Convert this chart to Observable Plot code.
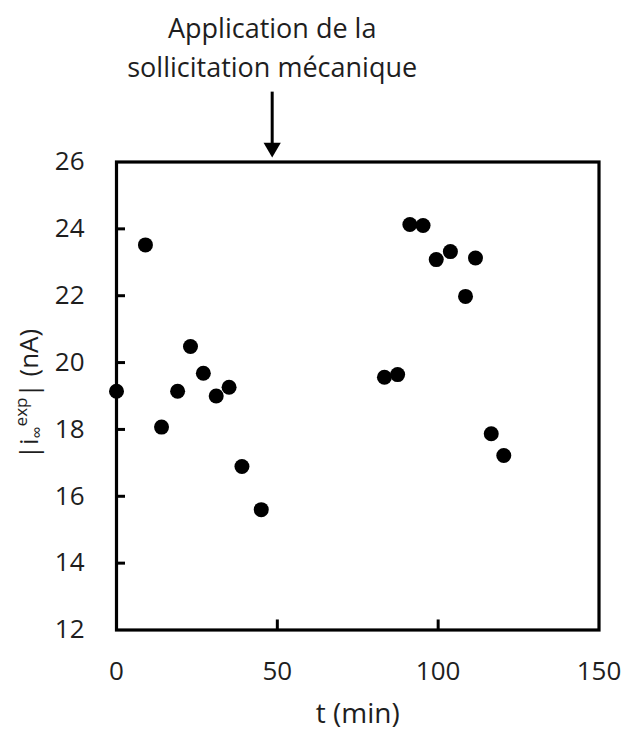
<!DOCTYPE html>
<html>
<head>
<meta charset="utf-8">
<script src="https://cdn.jsdelivr.net/npm/d3@7"></script>
<script src="https://cdn.jsdelivr.net/npm/@observablehq/plot@0.6"></script>
<style>
  html, body { margin: 0; padding: 0; background: #fff; }
  svg { display: block; }
</style>
</head>
<body>
<div id="chart"></div>
<script>
const tValues = [0, 9, 14, 19, 23, 27, 31, 35, 39, 45,
                 83.3, 87.4, 91.2, 95.3, 99.4, 103.8, 108.5, 111.6, 116.5, 120.4];
const iValues = [19.14, 23.52, 18.07, 19.14, 20.48, 19.68, 19.0, 19.26, 16.89, 15.60,
                 19.56, 19.64, 24.13, 24.10, 23.08, 23.32, 21.98, 23.13, 17.87, 17.22];
const xTicks = [0, 50, 100, 150];
const yTicks = [12, 14, 16, 18, 20, 22, 24, 26];
const annotationT = 48.4;
const annotationText = "Application de la\nsollicitation mécanique";
const xLabel = "t (min)";

const data = tValues.map((t, i) => ({t, v: iValues[i]}));
const font = "'Open Sans', sans-serif";
const ink = "#1e1e1e";

const plot = Plot.plot({
  width: 628,
  height: 736,
  marginLeft: 116,
  marginRight: 29.5,
  marginTop: 161.5,
  marginBottom: 106.5,
  style: {fontFamily: font, fontSize: "26px", color: ink, background: "#fff", overflow: "visible"},
  x: {domain: [0, 150], ticks: xTicks},
  y: {domain: [12, 26], ticks: yTicks},
  marks: [
    Plot.ruleY(yTicks.slice(1, -1), {x1: 0, x2: 2.8, stroke: "#000", strokeWidth: 3}),
    Plot.ruleX(xTicks.slice(1, -1), {y1: 12, y2: 12.3, stroke: "#000", strokeWidth: 3}),
    Plot.frame({stroke: "#000", strokeWidth: 3.2}),
    Plot.axisY(yTicks, {tickSize: 0, tickPadding: 32, fontSize: 26, label: null, fill: ink}),
    Plot.axisX(xTicks, {tickSize: 0, tickPadding: 32, fontSize: 26, label: null, fill: ink}),
    Plot.dot(data, {x: "t", y: "v", r: 7.5, fill: "#000", stroke: null}),
    // annotation arrow: shaft + filled triangular head
    Plot.ruleX([annotationT], {y1: 28.09, y2: 26.45, stroke: "#000", strokeWidth: 3, clip: false}),
    Plot.dot([annotationT], {x: d => d, y: 26.43, symbol: "triangle", rotate: 180, r: 6.4,
      fill: "#000", stroke: null, clip: false}),
    Plot.text([annotationText], {x: annotationT, frameAnchor: "top", lineAnchor: "middle",
      dy: -117.3, text: d => d, fontSize: 27, lineHeight: 1.45, fill: ink, clip: false}),
    Plot.text([xLabel], {frameAnchor: "bottom", lineAnchor: "middle", dy: 84, text: d => d,
      fontSize: 28, fill: ink})
  ]
});

// y-axis title with subscript ∞ and superscript exp
const svg = d3.select(plot);
const yt = svg.append("text")
  .attr("transform", "translate(38,394) rotate(-90)")
  .attr("text-anchor", "middle")
  .attr("fill", ink)
  .style("font-family", font)
  .style("font-size", "26px");
yt.append("tspan").text("|i");
yt.append("tspan").attr("dy", 5).style("font-size", "17px").text("∞");
yt.append("tspan").attr("dy", -16).style("font-size", "17px").text("exp");
yt.append("tspan").attr("dy", 11).text("| (nA)");

document.getElementById("chart").appendChild(plot);
</script>
</body>
</html>
